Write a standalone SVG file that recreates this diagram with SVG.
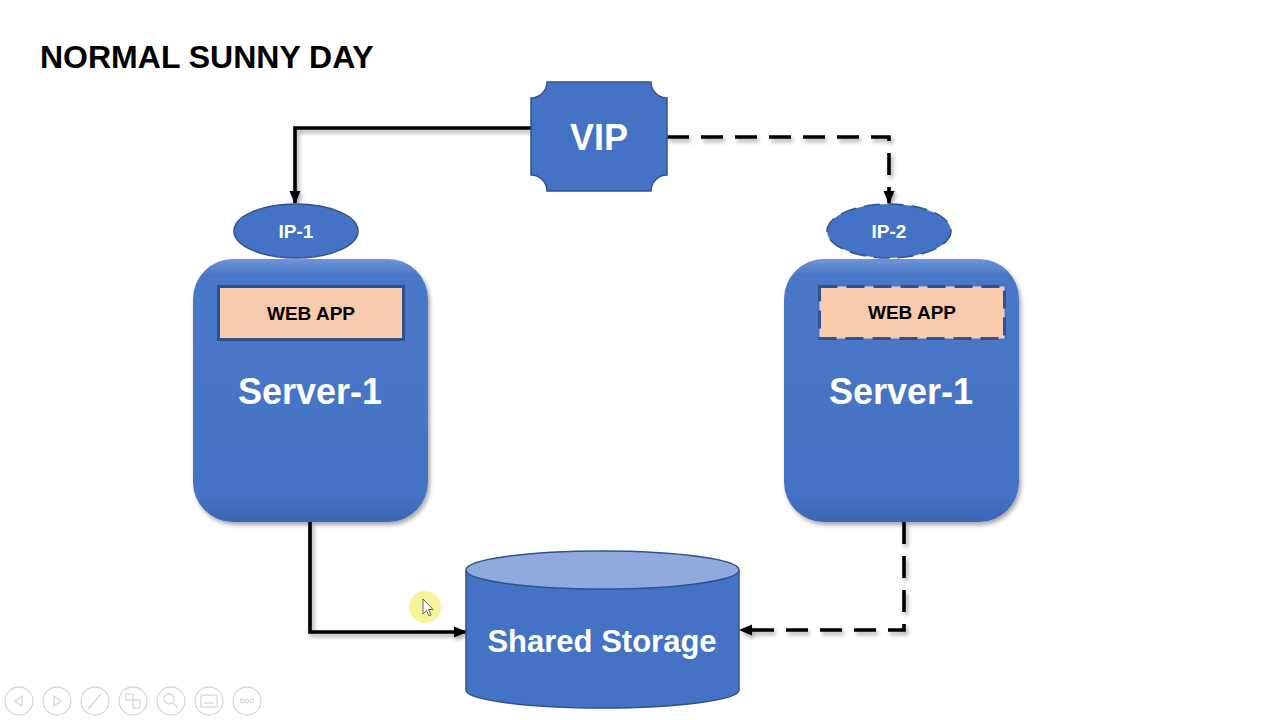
<svg xmlns="http://www.w3.org/2000/svg" width="1280" height="720" viewBox="0 0 1280 720">
  <defs>
    <style>
      .lbl { font-family: "Liberation Sans", Arial, sans-serif; font-weight: bold; text-anchor: middle; }
      .w { fill: #ffffff; }
      .k { fill: #000000; }
      .blue { fill: #4472C4; stroke: #2F528F; stroke-width: 1.5; }
      .conn { fill: none; stroke: #000; stroke-width: 3.6; stroke-linejoin: miter; }
      .dash { stroke-dasharray: 22 12; }
      .ctl { fill: none; stroke: #d9d9d9; stroke-width: 1.3; }
    </style>
    <marker id="ah" markerUnits="userSpaceOnUse" markerWidth="14" markerHeight="14" viewBox="0 0 14 14" refX="12" refY="7" orient="auto">
      <path d="M0,1.5 L13,7 L0,12.5 Z" fill="#000"/>
    </marker>
    <filter id="sh" x="-20%" y="-20%" width="140%" height="140%">
      <feDropShadow dx="2" dy="3" stdDeviation="2.2" flood-color="#000" flood-opacity="0.35"/>
    </filter>
    <linearGradient id="srv" x1="0" y1="0" x2="0" y2="1">
      <stop offset="0" stop-color="#6f95d8"/>
      <stop offset="0.06" stop-color="#4a77c7"/>
      <stop offset="0.9" stop-color="#4472C4"/>
      <stop offset="1" stop-color="#3c66b3"/>
    </linearGradient>
  </defs>
  <rect width="1280" height="720" fill="#ffffff"/>

  <text x="40" y="68" font-family="Liberation Sans, Arial, sans-serif" font-weight="bold" font-size="32" fill="#000">NORMAL SUNNY DAY</text>

  <g id="connectors" filter="url(#sh)">
    <path class="conn" d="M531 128 H295 V203" marker-end="url(#ah)"/>
    <path class="conn dash" d="M667 137 H889 V203" marker-end="url(#ah)"/>
    <path class="conn" d="M310 522 V632 H466" marker-end="url(#ah)"/>
    <path class="conn dash" d="M904 522 V630 H740" marker-end="url(#ah)"/>
  </g>

  <g id="vip">
    <path class="blue" d="M547 82 H651 A16 16 0 0 0 667 98 V175 A16 16 0 0 0 651 191 H547 A16 16 0 0 0 531 175 V98 A16 16 0 0 0 547 82 Z"/>
    <text class="lbl w" x="599" y="150" font-size="36">VIP</text>
  </g>

  <g id="server1">
    <rect x="193" y="259" width="235" height="263" rx="40" ry="40" fill="url(#srv)" filter="url(#sh)"/>
    <text class="lbl w" x="310" y="404" font-size="36">Server-1</text>
  </g>
  <g id="webapp1">
    <rect x="218.5" y="286.5" width="185" height="53" fill="#F8CBAD" stroke="#2F528F" stroke-width="3"/>
    <text class="lbl k" x="311" y="320" font-size="19">WEB APP</text>
  </g>
  <g id="ip1">
    <ellipse class="blue" cx="296" cy="231" rx="62" ry="27" stroke-width="2.5"/>
    <text class="lbl w" x="296" y="238" font-size="19">IP-1</text>
  </g>

  <g id="server2">
    <rect x="784" y="259" width="235" height="263" rx="40" ry="40" fill="url(#srv)" filter="url(#sh)"/>
    <text class="lbl w" x="901" y="404" font-size="36">Server-1</text>
  </g>
  <g id="webapp2">
    <rect x="819.5" y="286.5" width="185" height="52" fill="#F8CBAD" stroke="#2F528F" stroke-width="3" stroke-dasharray="18 9"/>
    <text class="lbl k" x="912" y="319" font-size="19">WEB APP</text>
  </g>
  <g id="ip2">
    <ellipse class="blue" cx="889" cy="231" rx="62" ry="27" stroke-width="2.5" stroke-dasharray="16 8"/>
    <text class="lbl w" x="889" y="238" font-size="19">IP-2</text>
  </g>

  <g id="storage">
    <path class="blue" d="M466 570 V690 A136.5 18 0 0 0 739 690 V570"/>
    <ellipse cx="602.5" cy="570" rx="136.5" ry="19" fill="#8FAADC" stroke="#2F528F" stroke-width="1.5"/>
    <text class="lbl w" x="602" y="652" font-size="31">Shared Storage</text>
  </g>

  <g id="cursor">
    <circle cx="425" cy="607" r="16" fill="#f5f07a" opacity="0.75"/>
    <path d="M423 599 V614 L426.5 610.5 L429 616 L431 615 L428.5 609.5 L433 609.5 Z" fill="#fff" stroke="#555" stroke-width="0.9"/>
  </g>

  <g id="controls">
    <circle class="ctl" cx="19" cy="701" r="14"/>
    <path class="ctl" d="M22 696 L15 701 L22 706 Z"/>
    <circle class="ctl" cx="57" cy="701" r="14"/>
    <path class="ctl" d="M54 696 L61 701 L54 706 Z"/>
    <circle class="ctl" cx="95" cy="701" r="14"/>
    <path class="ctl" d="M89 708 L101 694 M88 709 L91 705"/>
    <circle class="ctl" cx="133" cy="701" r="14"/>
    <rect class="ctl" x="126" y="694" width="7" height="6"/>
    <rect class="ctl" x="133" y="700" width="7" height="8"/>
    <circle class="ctl" cx="171" cy="701" r="14"/>
    <circle class="ctl" cx="169" cy="699" r="5"/>
    <path class="ctl" d="M173 703 L178 708"/>
    <circle class="ctl" cx="209" cy="701" r="14"/>
    <rect class="ctl" x="201" y="695" width="16" height="12"/>
    <path class="ctl" d="M204 703 H214"/>
    <circle class="ctl" cx="247" cy="701" r="14"/>
    <circle class="ctl" cx="242" cy="701" r="1.8"/>
    <circle class="ctl" cx="247" cy="701" r="1.8"/>
    <circle class="ctl" cx="252" cy="701" r="1.8"/>
  </g>
</svg>
